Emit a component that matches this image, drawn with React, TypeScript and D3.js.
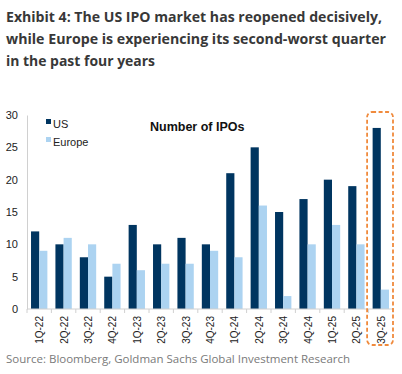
import { useEffect, useRef } from "react";
import * as d3 from "d3";

const quarters = [
  "1Q-22", "2Q-22", "3Q-22", "4Q-22", "1Q-23", "2Q-23", "3Q-23", "4Q-23",
  "1Q-24", "2Q-24", "3Q-24", "4Q-24", "1Q-25", "2Q-25", "3Q-25",
];
const usIpos = [12, 10, 8, 5, 13, 10, 11, 10, 21, 25, 15, 17, 20, 19, 28];
const europeIpos = [9, 11, 10, 7, 6, 7, 7, 9, 8, 16, 2, 10, 13, 10, 3];
const yTicks = [0, 5, 10, 15, 20, 25, 30];
const seriesNames = ["US", "Europe"];
const titleLines = [
  "Exhibit 4: The US IPO market has reopened decisively,",
  "while Europe is experiencing its second-worst quarter",
  "in the past four years",
];
// rendered widths of the heading lines
const titleWidths = [376, 380, 149];
const sourceText = "Source: Bloomberg, Goldman Sachs Global Investment Research";

const colors: Record<string, string> = { US: "#003560", Europe: "#acd3f1" };

export default function App() {
  const ref = useRef<SVGSVGElement>(null);

  useEffect(() => {
    document.body.style.margin = "0";
    const svg = d3.select(ref.current);
    svg.selectAll("*").remove();

    const width = 402;
    const height = 374;
    const margin = { left: 27, right: 8, top: 115, bottom: 65 };
    const plotBottom = 309;

    svg.append("rect").attr("width", width).attr("height", height).attr("fill", "#fff");

    // Heading
    svg
      .append("g")
      .selectAll("text")
      .data(titleLines)
      .join("text")
      .attr("x", 6)
      .attr("y", (_, i) => 22 + i * 22)
      .attr("font-family", "'Open Sans', sans-serif")
      .attr("font-weight", 700)
      .attr("font-size", 14.2)
      .attr("fill", "#383838")
      .attr("textLength", (_, i) => titleWidths[i])
      .attr("lengthAdjust", "spacingAndGlyphs")
      .text((d) => d);

    const x = d3
      .scaleBand()
      .domain(quarters)
      .range([margin.left, 393])
      .paddingInner(0.33)
      .paddingOuter(0.165);

    const x1 = d3.scaleBand().domain(seriesNames).range([0, x.bandwidth()]);

    const y = d3.scaleLinear().domain([0, 30]).range([plotBottom, margin.top]);

    const rows = quarters.map((q, i) => ({ q, US: usIpos[i], Europe: europeIpos[i] }));

    // Bars
    const groups = svg
      .append("g")
      .selectAll("g")
      .data(rows)
      .join("g")
      .attr("transform", (d) => `translate(${x(d.q)},0)`);

    groups
      .selectAll("rect")
      .data((d) => seriesNames.map((s) => ({ s, v: (d as any)[s] as number })))
      .join("rect")
      .attr("x", (d) => x1(d.s)!)
      .attr("width", x1.bandwidth())
      .attr("y", (d) => y(d.v))
      .attr("height", (d) => y(0) - y(d.v))
      .attr("fill", (d) => colors[d.s]);

    // Y axis
    const yAxis = svg
      .append("g")
      .attr("transform", `translate(${margin.left},0)`)
      .call(d3.axisLeft(y).tickValues(yTicks).tickSize(0).tickPadding(9));
    yAxis.select(".domain").attr("stroke", "#d0d0d0");
    yAxis
      .selectAll("text")
      .attr("font-family", "Arial, 'Liberation Sans', sans-serif")
      .attr("font-size", 11)
      .attr("fill", "#222");

    // X axis with ticks between categories
    const step = x.step();
    const bandStart = margin.left;
    const xAxis = svg.append("g").attr("transform", `translate(0,${plotBottom})`);
    xAxis
      .append("line")
      .attr("x1", bandStart)
      .attr("x2", 393)
      .attr("stroke", "#d0d0d0");
    xAxis
      .selectAll("line.tick")
      .data(d3.range(quarters.length + 1))
      .join("line")
      .attr("class", "tick")
      .attr("x1", (i) => bandStart + i * step)
      .attr("x2", (i) => bandStart + i * step)
      .attr("y2", 4)
      .attr("stroke", "#d0d0d0");
    xAxis
      .selectAll("text")
      .data(quarters)
      .join("text")
      .attr("transform", (d) => `translate(${x(d)! + x.bandwidth() / 2 + 4},7) rotate(-90)`)
      .attr("text-anchor", "end")
      .attr("font-family", "Arial, 'Liberation Sans', sans-serif")
      .attr("font-size", 10)
      .attr("fill", "#222")
      .text((d) => d);

    // Legend
    const legend = svg
      .append("g")
      .selectAll("g")
      .data(seriesNames)
      .join("g")
      .attr("transform", (_, i) => `translate(46,${123 + i * 18})`);
    legend
      .append("rect")
      .attr("y", -4)
      .attr("width", 5)
      .attr("height", 5)
      .attr("fill", (d) => colors[d]);
    legend
      .append("text")
      .attr("x", 7)
      .attr("y", 1)
      .attr("dy", "0.35em")
      .attr("font-family", "Arial, 'Liberation Sans', sans-serif")
      .attr("font-size", 11)
      .attr("fill", "#222")
      .text((d) => d);

    svg
      .append("text")
      .attr("x", 150)
      .attr("y", 131)
      .attr("font-family", "Arial, 'Liberation Sans', sans-serif")
      .attr("font-weight", 700)
      .attr("font-size", 12.5)
      .attr("fill", "#111")
      .text("Number of IPOs");

    // Highlight box around the latest quarter
    const last = quarters[quarters.length - 1];
    const bx = bandStart + (quarters.length - 1) * step - 1.5;
    svg
      .append("rect")
      .datum(last)
      .attr("x", bx)
      .attr("y", 112)
      .attr("width", step + 1.5)
      .attr("height", 233)
      .attr("rx", 5)
      .attr("fill", "none")
      .attr("stroke", "#f08a3c")
      .attr("stroke-width", 1.8)
      .attr("stroke-dasharray", "4,2.5");

    // Source note
    svg
      .append("text")
      .attr("x", 6)
      .attr("y", 363)
      .attr("font-family", "'Open Sans', sans-serif")
      .attr("font-size", 11.5)
      .attr("fill", "#7a7a7a")
      .text(sourceText);
  }, []);

  return <svg ref={ref} width={402} height={374} style={{ display: "block" }} />;
}
